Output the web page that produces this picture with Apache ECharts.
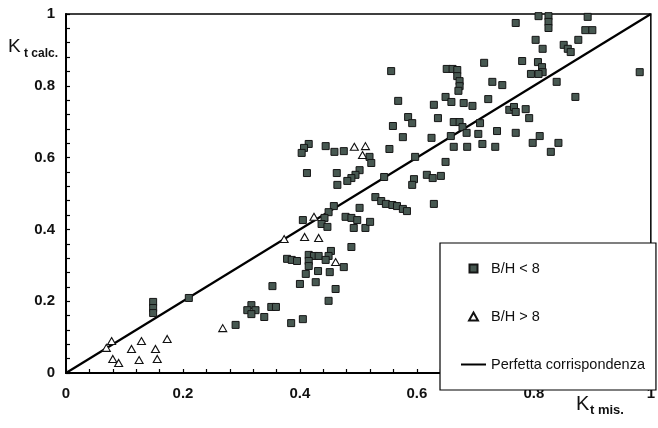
<!DOCTYPE html>
<html>
<head>
<meta charset="utf-8">
<script src="https://cdn.jsdelivr.net/npm/echarts@6/dist/echarts.min.js"></script>
<style>html,body{margin:0;padding:0;background:#fff;}#c{width:658px;height:428px;}</style>
</head>
<body>
<div id="c"></div>
<script>
// ---- data ----
var bhLess8 = [
[0.149,0.198],[0.149,0.181],[0.149,0.167],[0.210,0.209],[0.290,0.134],[0.317,0.189],[0.310,0.175],[0.324,0.175],[0.317,0.164],[0.351,0.184],[0.359,0.184],[0.339,0.156],[0.353,0.242],[0.385,0.139],[0.405,0.150],[0.400,0.248],[0.410,0.276],[0.427,0.253],[0.431,0.284],[0.451,0.281],[0.461,0.234],[0.449,0.201],[0.475,0.295],[0.378,0.318],[0.386,0.315],[0.395,0.312],[0.415,0.329],[0.424,0.326],[0.432,0.326],[0.415,0.312],[0.415,0.298],[0.453,0.340],[0.449,0.326],[0.444,0.315],[0.488,0.351],
[0.405,0.426],[0.458,0.465],[0.449,0.448],[0.442,0.432],[0.437,0.415],[0.478,0.435],[0.488,0.432],[0.498,0.426],[0.447,0.407],[0.492,0.404],[0.512,0.404],[0.520,0.421],[0.502,0.460],[0.464,0.524],[0.412,0.557],[0.463,0.557],[0.502,0.565],[0.495,0.552],[0.488,0.543],[0.481,0.535],[0.415,0.638],[0.407,0.627],[0.403,0.613],[0.444,0.632],[0.459,0.616],[0.475,0.618],[0.519,0.602],[0.522,0.585],[0.553,0.624],[0.576,0.657],[0.559,0.688],[0.568,0.758],[0.556,0.841],[0.585,0.713],[0.592,0.696],[0.595,0.540],[0.592,0.524],[0.544,0.546],[0.617,0.552],[0.627,0.543],[0.641,0.549],[0.649,0.588],[0.629,0.471],[0.529,0.490],[0.539,0.479],[0.547,0.471],[0.558,0.468],[0.566,0.465],[0.576,0.457],[0.583,0.451],[0.597,0.602],[0.625,0.655],[0.629,0.747],[0.636,0.710],[0.649,0.769],[0.659,0.755],[0.680,0.752],[0.695,0.744],[0.715,0.864],[0.651,0.847],[0.661,0.847],[0.669,0.844],[0.669,0.827],[0.673,0.813],[0.673,0.799],[0.671,0.786],[0.663,0.699],[0.673,0.699],[0.678,0.685],[0.685,0.669],[0.708,0.696],[0.705,0.666],[0.712,0.638],[0.734,0.630],[0.686,0.630],[0.663,0.630],[0.658,0.660],[0.737,0.674],[0.769,0.669],[0.722,0.763],[0.729,0.811],[0.746,0.802],[0.758,0.733],[0.766,0.741],[0.769,0.727],[0.786,0.735],[0.792,0.710],[0.810,0.660],[0.798,0.641],[0.842,0.641],[0.829,0.616],[0.769,0.975],[0.808,0.994],[0.825,0.994],[0.825,0.978],[0.825,0.961],[0.892,0.992],[0.888,0.955],[0.900,0.955],[0.876,0.928],[0.803,0.928],[0.815,0.903],[0.851,0.914],[0.858,0.903],[0.863,0.894],[0.780,0.869],[0.807,0.866],[0.814,0.852],[0.815,0.838],[0.808,0.833],[0.795,0.833],[0.839,0.811],[0.871,0.769],[0.981,0.838]
];
var bhMore8 = [
[0.069,0.070],[0.078,0.089],[0.080,0.039],[0.090,0.028],[0.112,0.067],[0.129,0.089],[0.125,0.036],[0.153,0.067],[0.156,0.039],[0.173,0.095],[0.268,0.125],[0.461,0.309],[0.373,0.373],[0.408,0.379],[0.432,0.376],[0.424,0.435],[0.493,0.630],[0.512,0.632],[0.507,0.607]
];
var perfectLine = [[0,0],[1,1]];
var seriesNames = ['B/H < 8', 'B/H > 8', 'Perfetta corrispondenza'];
var axisMin = 0, axisMax = 1, axisStep = 0.2;

var chart = echarts.init(document.getElementById('c'), null, {renderer:'canvas'});
var labelStyle = {fontFamily:'Liberation Sans, Arial, sans-serif', fontSize:15, fontWeight:'bold', color:'#111'};
function fmt(v){return v===0?'0':(v===1?'1':v.toFixed(1));}
function axisCommon(){
  return {
    type:'value', min:axisMin, max:axisMax, interval:axisStep,
    axisLine:{show:true, lineStyle:{color:'#000', width:2}},
    axisTick:{show:true, inside:true, length:4, lineStyle:{color:'#000', width:1.2}},
    minorTick:{show:true, splitNumber:5, length:4, lineStyle:{color:'#000', width:1.2}},
    splitLine:{show:false},
    minorSplitLine:{show:false}
  };
}
var xa = axisCommon();
xa.axisLabel = Object.assign({margin:13, formatter:fmt}, labelStyle);
var ya = axisCommon();
ya.axisLabel = Object.assign({margin:11, formatter:fmt}, labelStyle);

chart.setOption({
  animation:false,
  backgroundColor:'#fff',
  grid:{left:66, right:2, top:14, bottom:55, show:true, borderColor:'#000', borderWidth:1.5, backgroundColor:'transparent'},
  xAxis:xa,
  yAxis:ya,
  legend:{
    orient:'vertical', left:440, top:243,
    padding:[18,11,18,21],
    itemWidth:25, itemHeight:8, itemGap:33,
    symbolKeepAspect:true,
    backgroundColor:'#fff', borderColor:'#000', borderWidth:1.2,
    textStyle:{fontFamily:'Liberation Sans, Arial, sans-serif', fontSize:14.5, color:'#111'},
    data:[
      {name:seriesNames[0], icon:'path://M0,0L10,0L10,10L0,10Z'},
      {name:seriesNames[1], icon:'path://M5,0L10,9L0,9Z'},
      {name:seriesNames[2], icon:'path://M0,0L25,0L25,2L0,2Z', itemStyle:{color:'#000', borderWidth:0}}
    ]
  },
  series:[
    {name:seriesNames[2], type:'line', data:perfectLine, symbol:'none', z:2,
     lineStyle:{color:'#000', width:2.2}, itemStyle:{color:'#000'}},
    {name:seriesNames[0], type:'scatter', data:bhLess8, symbol:'rect', symbolSize:7, z:3, clip:false,
     itemStyle:{color:'#475851', borderColor:'#151515', borderWidth:1, opacity:1}},
    {name:seriesNames[1], type:'scatter', data:bhMore8, symbol:'triangle', symbolSize:[8,7], z:3, clip:false,
     itemStyle:{color:'#fff', borderColor:'#111', borderWidth:1.1, opacity:1}}
  ],
  graphic:[
    {type:'text', left:8, top:37, style:{text:'K', font:'19px "Liberation Sans", Arial, sans-serif', fill:'#111'}},
    {type:'text', left:24, top:48, style:{text:'t calc.', font:'bold 12px "Liberation Sans", Arial, sans-serif', fill:'#111'}},
    {type:'text', left:576, top:394, style:{text:'K', font:'20px "Liberation Sans", Arial, sans-serif', fill:'#111'}},
    {type:'text', left:590, top:404, style:{text:'t mis.', font:'bold 13px "Liberation Sans", Arial, sans-serif', fill:'#111'}}
  ]
});
</script>
</body>
</html>
